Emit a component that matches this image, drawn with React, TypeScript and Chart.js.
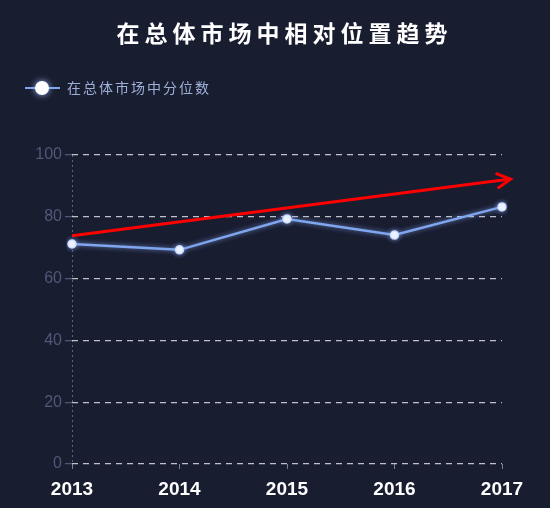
import { useEffect, useRef } from "react";
import { Chart, registerables } from "chart.js";

Chart.register(...registerables);

const TITLE = "在总体市场中相对位置趋势";
const SERIES_NAME = "在总体市场中分位数";
const TREND_NAME = "趋势";
const years = ["2013", "2014", "2015", "2016", "2017"];
const percentile = [71.2, 69.3, 79.3, 74.1, 83.2];
const trendX = [0, 4.08];
const trendY = [73.9, 92.2];
const yMin = 0;
const yMax = 100;
const yStep = 20;

const BG = "#191d30";
const LINE = "#7fa6ee";
const RED = "#ff0000";
const GRID = "rgba(210,213,222,0.9)";
const AXIS_DIM = "#4f5878";
const CJK = '"Noto Sans CJK SC", "Noto Sans", sans-serif';
const LATIN = '"Liberation Sans", Arial, sans-serif';

const bgPlugin = {
  id: "bg",
  beforeDraw(chart: any) {
    const { ctx, width, height } = chart;
    ctx.save();
    ctx.fillStyle = BG;
    ctx.fillRect(0, 0, width, height);
    ctx.restore();
  },
};

const glowPlugin = {
  id: "glow",
  beforeDatasetDraw(chart: any, args: any) {
    if (args.index !== 0) return;
    const { ctx } = chart;
    ctx.save();
    ctx.shadowColor = "rgba(140,175,255,0.7)";
    ctx.shadowBlur = 5;
  },
  afterDatasetDraw(chart: any, args: any) {
    if (args.index !== 0) return;
    chart.ctx.restore();
  },
};

const headerPlugin = {
  id: "header",
  afterDraw(chart: any) {
    const { ctx, width } = chart;
    ctx.save();
    ctx.font = `bold 23px ${CJK}`;
    (ctx as any).letterSpacing = "5px";
    ctx.fillStyle = "#ffffff";
    ctx.textBaseline = "middle";
    ctx.textAlign = "left";
    const w = ctx.measureText(TITLE).width - 5;
    ctx.fillText(TITLE, width / 2 + 7 - w / 2, 33);
    ctx.restore();

    ctx.save();
    const ly = 88;
    ctx.strokeStyle = LINE;
    ctx.lineWidth = 2;
    ctx.beginPath();
    ctx.moveTo(25, ly);
    ctx.lineTo(60, ly);
    ctx.stroke();
    ctx.shadowColor = "rgba(160,190,255,0.95)";
    ctx.shadowBlur = 6;
    ctx.fillStyle = "#ffffff";
    ctx.beginPath();
    ctx.arc(42, ly, 7, 0, Math.PI * 2);
    ctx.fill();
    ctx.restore();

    ctx.save();
    ctx.font = `14px ${CJK}`;
    (ctx as any).letterSpacing = "2px";
    ctx.fillStyle = "#9fb0d6";
    ctx.textBaseline = "middle";
    ctx.textAlign = "left";
    ctx.fillText(SERIES_NAME, 67, ly);
    ctx.restore();
  },
};

const arrowPlugin = {
  id: "arrowHead",
  afterDatasetsDraw(chart: any) {
    const meta = chart.getDatasetMeta(1);
    const pts = meta.data;
    if (!pts || pts.length < 2) return;
    const a = pts[pts.length - 2];
    const b = pts[pts.length - 1];
    const ang = Math.atan2(b.y - a.y, b.x - a.x);
    const len = 16;
    const spread = (28 * Math.PI) / 180;
    const { ctx } = chart;
    ctx.save();
    ctx.strokeStyle = RED;
    ctx.lineWidth = 3;
    ctx.lineJoin = "miter";
    ctx.beginPath();
    ctx.moveTo(b.x - len * Math.cos(ang - spread), b.y - len * Math.sin(ang - spread));
    ctx.lineTo(b.x, b.y);
    ctx.lineTo(b.x - len * Math.cos(ang + spread), b.y - len * Math.sin(ang + spread));
    ctx.stroke();
    ctx.restore();
  },
};

export default function App() {
  const ref = useRef<HTMLCanvasElement | null>(null);

  useEffect(() => {
    document.body.style.margin = "0";
    document.body.style.background = BG;
    if (!ref.current) return;
    const chart = new Chart(ref.current, {
      type: "line",
      data: {
        labels: years,
        datasets: [
          {
            label: SERIES_NAME,
            data: percentile,
            borderColor: LINE,
            borderWidth: 2.5,
            pointRadius: 4,
            pointBackgroundColor: "#ffffff",
            pointBorderColor: "rgba(205,220,255,0.95)",
            pointBorderWidth: 1.5,
            tension: 0,
            xAxisID: "x",
            yAxisID: "y",
          },
          {
            label: TREND_NAME,
            data: trendX.map((x, i) => ({ x, y: trendY[i] })),
            borderColor: RED,
            borderWidth: 3,
            pointRadius: 0,
            tension: 0,
            clip: false,
            xAxisID: "xt",
            yAxisID: "y",
          } as any,
        ],
      },
      options: {
        animation: false,
        responsive: true,
        maintainAspectRatio: false,
        events: [],
        layout: { padding: { top: 155, right: 48, left: 0, bottom: 0 } },
        plugins: {
          legend: { display: false },
          title: { display: false },
          tooltip: { enabled: false },
        },
        scales: {
          x: {
            type: "category",
            offset: false,
            border: { display: false, dash: [2, 3] },
            grid: {
              drawOnChartArea: true,
              color: (c: any) => (c.index === 0 ? "#5a6484" : "transparent"),
              lineWidth: 1,
              tickLength: 5,
              tickColor: "#7a8299",
              tickBorderDash: [],
            },
            ticks: {
              color: "#ffffff",
              padding: 9,
              maxRotation: 0,
              autoSkip: false,
              font: { size: 19, weight: "bold", family: LATIN },
            },
            afterFit(scale: any) {
              scale.height = 44;
            },
          },
          xt: {
            type: "linear",
            display: false,
            min: 0,
            max: years.length - 1,
            offset: false,
          },
          y: {
            min: yMin,
            max: yMax,
            border: { display: false, dash: [6, 5] },
            grid: {
              color: GRID,
              lineWidth: 1.3,
              tickLength: 7,
              tickColor: AXIS_DIM,
              tickBorderDash: [],
            },
            ticks: {
              stepSize: yStep,
              color: AXIS_DIM,
              padding: 3,
              font: { size: 16, family: LATIN },
            },
            afterFit(scale: any) {
              scale.width = 72;
            },
          },
        },
      },
      plugins: [bgPlugin, glowPlugin, headerPlugin, arrowPlugin],
    });
    return () => chart.destroy();
  }, []);

  return (
    <div style={{ position: "fixed", left: 0, top: 0, width: 550, height: 508, background: BG }}>
      <canvas ref={ref} />
    </div>
  );
}
